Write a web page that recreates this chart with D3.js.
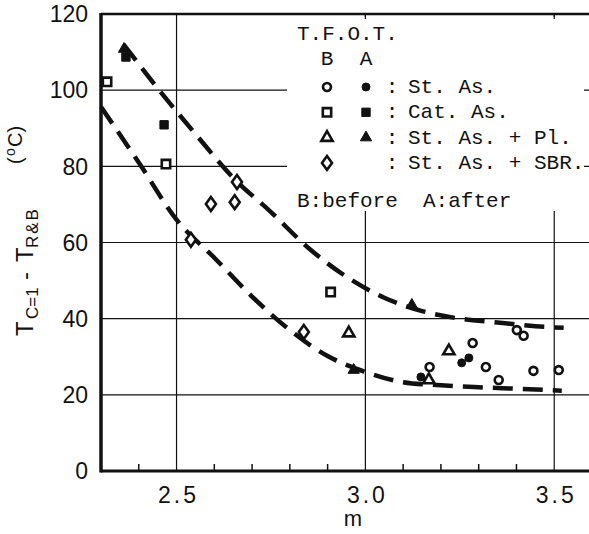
<!DOCTYPE html>
<html>
<head>
<meta charset="utf-8">
<script src="https://cdn.jsdelivr.net/npm/d3@7"></script>
<style>
  body { margin: 0; background: #fff; }
  svg { display: block; }
  .tick-num { font-family: "Liberation Sans", Arial, sans-serif; font-size: 23px; fill: #111; }
  .mono { font-family: "Courier New", "Liberation Mono", monospace; font-size: 21px; fill: #111; }
</style>
</head>
<body>
<svg id="chart" width="589" height="534"></svg>
<script>
// axis ticks
let xTicks = [2.5, 3.0, 3.5]
let xMinor = [2.4, 2.6, 2.7, 2.8, 2.9, 3.1, 3.2, 3.3, 3.4]
let yTicks = [0, 20, 40, 60, 80, 100, 120]
let yGrid = [20, 40, 60, 80, 100]

// points: [m, T]
let stAsBefore = [[3.401, 37.0], [3.419, 35.5], [3.284, 33.6], [3.319, 27.3], [3.445, 26.3], [3.512, 26.5], [3.170, 27.3], [3.353, 23.9]]
let stAsAfter = [[3.255, 28.4], [3.274, 29.7], [3.147, 24.7]]
let catAsBefore = [[2.316, 102.2], [2.472, 80.6], [2.908, 47.0]]
let catAsAfter = [[2.366, 108.7], [2.467, 90.9]]
let plBefore = [[2.956, 36.2], [3.221, 31.5], [3.168, 23.9]]
let plAfter = [[2.361, 110.8], [3.123, 43.6], [2.969, 26.5]]
let sbrBefore = [[2.660, 75.9], [2.591, 70.1], [2.654, 70.6], [2.538, 60.7], [2.837, 36.5]]

// the two dashed band curves
let upperCurve = [[2.36, 112], [2.45, 100.5], [2.55, 88.5], [2.65, 77], [2.75, 68], [2.85, 58.5], [2.95, 51], [3.05, 45.5], [3.15, 42], [3.25, 40], [3.35, 39], [3.45, 38], [3.525, 37.6]]
let lowerCurve = [[2.30, 95.6], [2.40, 81], [2.50, 66], [2.60, 56], [2.70, 45.8], [2.80, 37], [2.90, 30.2], [3.00, 26], [3.10, 23.3], [3.20, 22.5], [3.30, 22], [3.40, 21.6], [3.52, 21.1]]

let legendRows = ['St. As.', 'Cat. As.', 'St. As. + Pl.', 'St. As. + SBR.']

let svg = d3.select('#chart')
let x = d3.scaleLinear().domain([2.3, 3.6]).range([101, 592])
let y = d3.scaleLinear().domain([0, 120]).range([471, 14])
let ink = '#111'

// grid
svg.append('g').selectAll('line').data(yGrid).join('line')
  .attr('x1', x(2.3)).attr('x2', 589)
  .attr('y1', d => y(d)).attr('y2', d => y(d))
  .attr('stroke', ink).attr('stroke-width', 1.2)
svg.append('g').selectAll('line').data(xTicks).join('line')
  .attr('x1', d => x(d)).attr('x2', d => x(d))
  .attr('y1', y(0)).attr('y2', y(120))
  .attr('stroke', ink).attr('stroke-width', 1.2)
svg.append('g').selectAll('line').data(xMinor).join('line')
  .attr('x1', d => x(d)).attr('x2', d => x(d))
  .attr('y1', y(0)).attr('y2', y(0) - 7)
  .attr('stroke', ink).attr('stroke-width', 1.5)

// legend box hides the grid behind it
svg.append('rect').attr('x', 287).attr('y', 17).attr('width', 297).attr('height', 194).attr('fill', '#fff')

// frame
svg.append('line').attr('x1', x(2.3)).attr('x2', 589).attr('y1', y(120)).attr('y2', y(120)).attr('stroke', ink).attr('stroke-width', 2.5)
svg.append('line').attr('x1', x(2.3)).attr('x2', 589).attr('y1', y(0)).attr('y2', y(0)).attr('stroke', ink).attr('stroke-width', 3)
svg.append('line').attr('x1', x(2.3)).attr('x2', x(2.3)).attr('y1', y(120) - 1).attr('y2', y(0) + 1.5).attr('stroke', ink).attr('stroke-width', 3.5)
svg.append('g').selectAll('line').data([3.0, 3.5]).join('line')
  .attr('x1', d => x(d)).attr('x2', d => x(d))
  .attr('y1', y(120)).attr('y2', y(120) + 5)
  .attr('stroke', ink).attr('stroke-width', 1.2)

// tick labels
svg.append('g').selectAll('text').data(yTicks).join('text')
  .attr('class', 'tick-num')
  .attr('x', 88).attr('y', d => y(d)).attr('dy', '0.36em')
  .attr('text-anchor', 'end')
  .text(d => d)
svg.append('g').selectAll('text').data(xTicks).join('text')
  .attr('class', 'tick-num')
  .attr('x', d => x(d) + 2).attr('y', 503)
  .attr('text-anchor', 'middle')
  .style('letter-spacing', '3px')
  .text(d => d3.format('.1f')(d))
svg.append('text').attr('class', 'tick-num').attr('x', 353).attr('y', 526).attr('text-anchor', 'middle').style('font-size', '22px').text('m')

// y axis title, rotated
let ylab = svg.append('text').attr('class', 'tick-num').attr('transform', 'translate(33,336) rotate(-90)')
ylab.append('tspan').attr('x', 0).attr('y', 0).style('font-size', '24px').text('T')
ylab.append('tspan').attr('x', 17).attr('y', 5).style('font-size', '17px').text('C=1')
ylab.append('tspan').attr('x', 56).attr('y', 0).style('font-size', '24px').text('-')
ylab.append('tspan').attr('x', 74).attr('y', 0).style('font-size', '24px').text('T')
ylab.append('tspan').attr('x', 88).attr('y', 5).style('font-size', '17px').style('letter-spacing', '2px').text('R&B')
let unit = svg.append('text').attr('class', 'tick-num').attr('transform', 'translate(22,164) rotate(-90)').style('font-size', '20px')
unit.append('tspan').attr('x', 0).attr('y', 0).text('(')
unit.append('tspan').attr('x', 8).attr('y', -7).style('font-size', '14px').text('o')
unit.append('tspan').attr('x', 17).attr('y', 0).text('C)')

// dashed curves
let line = d3.line().x(d => x(d[0])).y(d => y(d[1])).curve(d3.curveMonotoneX)
svg.append('g').selectAll('path').data([upperCurve, lowerCurve]).join('path')
  .attr('d', line)
  .attr('fill', 'none').attr('stroke', ink).attr('stroke-width', 4.5)
  .attr('stroke-dasharray', '20,10')

// markers
let diamond = {
  draw(ctx, size) {
    let h = Math.sqrt(size) * 0.78, w = h * 0.72
    ctx.moveTo(0, -h); ctx.lineTo(w, 0); ctx.lineTo(0, h); ctx.lineTo(-w, 0); ctx.closePath()
  }
}
let styles = {
  circle: { type: d3.symbolCircle, size: 50 },
  square: { type: d3.symbolSquare, size: 70 },
  triangle: { type: d3.symbolTriangle, size: 55 },
  diamond: { type: diamond, size: 80 }
}
let series = [
  { pts: stAsBefore, shape: 'circle', filled: false },
  { pts: stAsAfter, shape: 'circle', filled: true },
  { pts: catAsBefore, shape: 'square', filled: false },
  { pts: catAsAfter, shape: 'square', filled: true },
  { pts: plBefore, shape: 'triangle', filled: false },
  { pts: plAfter, shape: 'triangle', filled: true },
  { pts: sbrBefore, shape: 'diamond', filled: false }
]
let drawMarker = (sel, shape, filled) => sel
  .attr('d', d3.symbol().type(styles[shape].type).size(styles[shape].size))
  .attr('fill', filled ? ink : '#fff')
  .attr('stroke', ink).attr('stroke-width', filled ? 1 : 2.6)

series.forEach(s => {
  svg.append('g').selectAll('path').data(s.pts).join('path')
    .attr('transform', d => 'translate(' + [x(d[0]), y(d[1])] + ')')
    .call(drawMarker, s.shape, s.filled)
})

// legend
let lg = svg.append('g')
lg.append('text').attr('class', 'mono').attr('x', 297).attr('y', 40).text('T.F.O.T.')
lg.append('text').attr('class', 'mono').attr('x', 327).attr('y', 65).attr('text-anchor', 'middle').text('B')
lg.append('text').attr('class', 'mono').attr('x', 366).attr('y', 65).attr('text-anchor', 'middle').text('A')
let legendShapes = ['circle', 'square', 'triangle', 'diamond']
legendRows.forEach((label, i) => {
  let cy = 87 + i * 25.3
  lg.append('path').attr('transform', 'translate(327,' + cy + ')').call(drawMarker, legendShapes[i], false)
  if (i < 3) lg.append('path').attr('transform', 'translate(366,' + cy + ')').call(drawMarker, legendShapes[i], true)
  lg.append('text').attr('class', 'mono').attr('x', 392).attr('y', cy + 6).attr('text-anchor', 'middle').text(':')
  lg.append('text').attr('class', 'mono').attr('x', 408).attr('y', cy + 6).text(label)
})
lg.append('text').attr('class', 'mono').attr('x', 297).attr('y', 207).attr('xml:space', 'preserve').text('B:before  A:after')
</script>
</body>
</html>
